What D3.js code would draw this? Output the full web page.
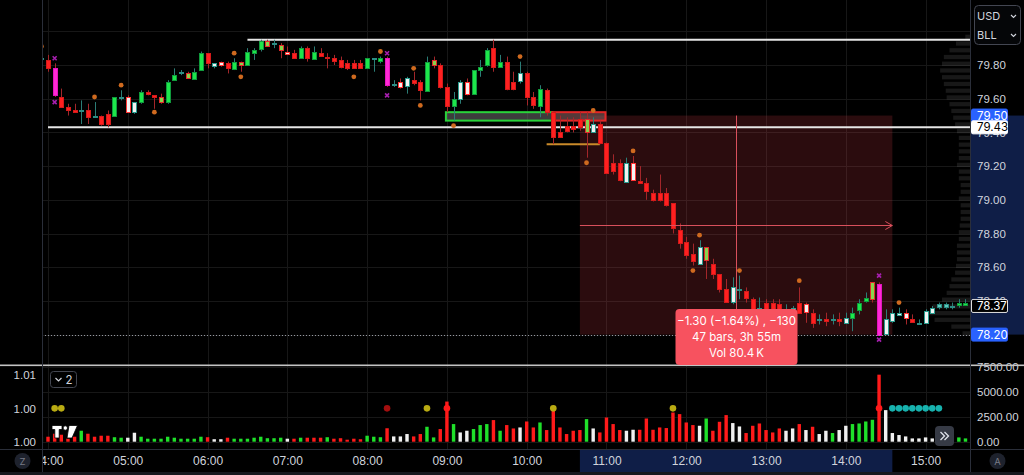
<!DOCTYPE html>
<html>
<head>
<meta charset="utf-8">
<title>BLL 5m</title>
<script src="https://cdn.jsdelivr.net/npm/d3@7"></script>
<style>
  html, body { margin: 0; padding: 0; background: #000; overflow: hidden; }
  svg { display: block; font-family: Inter, "Noto Sans", "DejaVu Sans", sans-serif; }
  .axis text { fill: #d1d4dc; font-size: 11.5px; }
  .axis path, .axis line { display: none; }
</style>
</head>
<body>
<svg id="chart" width="1024" height="475"></svg>
<script>
// 5 minute bars, 03:55 .. 15:35 (one row per hour)
var firstBar = "03:55", lastBar = "15:35";

var opens = [
  79.84,
  79.83, 79.78, 79.61, 79.55, 79.53, 79.53, 79.53, 79.50, 79.50, 79.51, 79.50, 79.61,
  79.61, 79.52, 79.58, 79.64, 79.62, 79.58, 79.58, 79.71, 79.76, 79.72, 79.72, 79.77,
  79.87, 79.79, 79.82, 79.81, 79.78, 79.80, 79.80, 79.87, 79.89, 79.91, 79.93, 79.89,
  79.88, 79.87, 79.84, 79.90, 79.84, 79.87, 79.85, 79.84, 79.83, 79.81, 79.81, 79.81,
  79.78, 79.84, 79.82, 79.84, 79.69, 79.70, 79.67, 79.71, 79.70, 79.65, 79.80, 79.80,
  79.67, 79.56, 79.60, 79.70, 79.63, 79.77, 79.80, 79.90, 79.79, 79.82, 79.70, 79.70,
  79.75, 79.61, 79.56, 79.65, 79.52, 79.40, 79.44, 79.44, 79.48, 79.40, 79.40, 79.45,
  79.34, 79.22, 79.22, 79.11, 79.22, 79.11, 79.10, 79.04, 79.04, 79.04, 78.98, 78.82,
  78.75, 78.68, 78.62, 78.64, 78.62, 78.56, 78.47, 78.39, 78.47, 78.46, 78.41, 78.36,
  78.39, 78.39, 78.38, 78.33, 78.32, 78.39, 78.38, 78.33, 78.29, 78.29, 78.29, 78.29,
  78.27, 78.30, 78.35, 78.40, 78.41, 78.50, 78.20, 78.28, 78.32, 78.33, 78.29, 78.27,
  78.27, 78.33, 78.36, 78.36, 78.37, 78.38, 78.38, 78.39
];
var highs = [
  79.85,
  79.86, 79.81, 79.66, 79.57, 79.57, 79.59, 79.57, 79.58, 79.50, 79.53, 79.61, 79.65,
  79.62, 79.58, 79.65, 79.65, 79.62, 79.63, 79.71, 79.78, 79.77, 79.76, 79.78, 79.88,
  79.87, 79.81, 79.82, 79.82, 79.84, 79.82, 79.90, 79.90, 79.95, 79.95, 79.95, 79.93,
  79.91, 79.89, 79.91, 79.91, 79.91, 79.90, 79.87, 79.86, 79.85, 79.83, 79.83, 79.83,
  79.84, 79.84, 79.85, 79.85, 79.71, 79.72, 79.73, 79.76, 79.71, 79.85, 79.85, 79.81,
  79.69, 79.64, 79.71, 79.72, 79.77, 79.83, 79.90, 79.95, 79.86, 79.85, 79.76, 79.82,
  79.76, 79.64, 79.68, 79.66, 79.52, 79.50, 79.49, 79.49, 79.52, 79.52, 79.49, 79.47,
  79.34, 79.27, 79.24, 79.25, 79.26, 79.20, 79.13, 79.06, 79.15, 79.07, 78.98, 78.86,
  78.78, 78.74, 78.76, 78.72, 78.65, 78.56, 78.53, 78.54, 78.55, 78.48, 78.42, 78.42,
  78.41, 78.41, 78.41, 78.38, 78.37, 78.48, 78.39, 78.35, 78.32, 78.33, 78.32, 78.33,
  78.33, 78.36, 78.41, 78.45, 78.51, 78.51, 78.35, 78.35, 78.36, 78.35, 78.32, 78.29,
  78.35, 78.37, 78.39, 78.39, 78.39, 78.41, 78.41, 78.41
];
var lows = [
  79.82,
  79.76, 79.61, 79.55, 79.50, 79.52, 79.45, 79.45, 79.49, 79.44, 79.43, 79.50, 79.59,
  79.52, 79.51, 79.57, 79.62, 79.54, 79.57, 79.57, 79.71, 79.74, 79.72, 79.72, 79.77,
  79.78, 79.78, 79.79, 79.75, 79.77, 79.76, 79.80, 79.83, 79.88, 79.91, 79.90, 79.84,
  79.86, 79.84, 79.84, 79.82, 79.84, 79.85, 79.78, 79.80, 79.78, 79.77, 79.78, 79.78,
  79.78, 79.76, 79.81, 79.67, 79.67, 79.66, 79.63, 79.68, 79.59, 79.65, 79.78, 79.66,
  79.52, 79.47, 79.57, 79.62, 79.63, 79.73, 79.79, 79.76, 79.79, 79.65, 79.65, 79.69,
  79.56, 79.54, 79.49, 79.50, 79.33, 79.37, 79.40, 79.40, 79.41, 79.25, 79.40, 79.33,
  79.16, 79.15, 79.11, 79.10, 79.12, 79.10, 79.00, 78.99, 78.99, 78.96, 78.80, 78.71,
  78.65, 78.61, 78.62, 78.53, 78.53, 78.45, 78.39, 78.38, 78.41, 78.39, 78.33, 78.33,
  78.33, 78.32, 78.30, 78.29, 78.30, 78.33, 78.27, 78.24, 78.26, 78.25, 78.26, 78.25,
  78.27, 78.22, 78.32, 78.39, 78.39, 78.20, 78.20, 78.27, 78.32, 78.26, 78.27, 78.26,
  78.27, 78.33, 78.35, 78.35, 78.35, 78.36, 78.37, 78.36
];
var closes = [
  79.84,
  79.78, 79.62, 79.55, 79.53, 79.52, 79.53, 79.49, 79.50, 79.45, 79.45, 79.61, 79.61,
  79.52, 79.58, 79.64, 79.63, 79.61, 79.61, 79.70, 79.74, 79.76, 79.75, 79.76, 79.87,
  79.81, 79.81, 79.80, 79.78, 79.82, 79.82, 79.88, 79.89, 79.94, 79.94, 79.93, 79.92,
  79.87, 79.84, 79.90, 79.84, 79.88, 79.85, 79.85, 79.82, 79.79, 79.78, 79.78, 79.78,
  79.84, 79.84, 79.84, 79.68, 79.69, 79.67, 79.72, 79.69, 79.65, 79.82, 79.83, 79.67,
  79.56, 79.60, 79.70, 79.63, 79.77, 79.79, 79.89, 79.79, 79.82, 79.66, 79.66, 79.75,
  79.61, 79.56, 79.66, 79.52, 79.37, 79.37, 79.41, 79.42, 79.43, 79.48, 79.45, 79.34,
  79.16, 79.17, 79.12, 79.22, 79.12, 79.10, 79.05, 79.00, 79.00, 78.97, 78.83, 78.74,
  78.67, 78.64, 78.72, 78.72, 78.56, 78.47, 78.39, 78.48, 78.47, 78.42, 78.35, 78.36,
  78.33, 78.33, 78.33, 78.33, 78.36, 78.33, 78.33, 78.27, 78.29, 78.28, 78.29, 78.28,
  78.30, 78.33, 78.39, 78.42, 78.51, 78.20, 78.29, 78.33, 78.33, 78.30, 78.27, 78.27,
  78.34, 78.36, 78.38, 78.38, 78.37, 78.39, 78.39, 78.37
];
// candle colouring of the volume-candle script:
// g up, r down, w weak down, W weak up, l lime, m climax, d doji
var barKind = [
  "d",
  "rmrrrdrdrrgd", "wWgrrlggdlgg", "rWwrglgggldl", "wrgrgrrrrrrr",
  "gdgmdwWrrglr", "rgWwgggrgrrW", "rrgrrrrrrlWr", "rrrWwrrrrrrr",
  "rrWlrrrWdrrd", "rrrdWrwrdrdr", "WggglmWWWwrd", "WWdddggw"
];
var volumes = [
  450,
  500, 800, 700, 300, 500, 1100, 800, 500, 600, 600, 450, 400,
  400, 900, 500, 300, 300, 300, 500, 400, 300, 300, 300, 500,
  450, 250, 250, 400, 300, 300, 300, 400, 500, 350, 350, 400,
  300, 300, 400, 400, 400, 400, 450, 300, 350, 200, 300, 250,
  600, 500, 450, 1350, 530, 530, 770, 530, 770, 1500, 430, 1270,
  4030, 1770, 930, 1100, 1270, 1670, 1770, 2170, 1100, 1670, 1330, 1430,
  2030, 1430, 1930, 1170, 3330, 1430, 770, 1100, 1170, 2270, 1330, 930,
  2430, 1770, 1170, 1100, 1200, 1200, 2330, 1200, 1430, 1370, 2930, 2770,
  1930, 1670, 1600, 2330, 1100, 2000, 2670, 1870, 1530, 870, 1600, 1830,
  1170, 930, 1330, 1100, 1330, 1770, 1170, 1500, 770, 1100, 870, 1170,
  1600, 1770, 1830, 2030, 2200, 6730, 3170, 870, 670, 530, 330, 330,
  430, 330, 300, 300, 300, 430, 330, 300
];
var volState = [
  "g",
  "rrrrrgrrrrgg", "wwgggggggggg", "rwwrgggggggg", "wrgrrrgrrrrr",
  "gggrwwwrrggr", "rgwwgggrgrrw", "rrgrrrrrrgwr", "rrrwwrrrrrrr",
  "rrwgrrrwwrrr", "rrrwwrwrwwgw", "wggggrwwwwww", "wwwwwggw"
];

// pivot dots and climax marks on the price pane
var pivotDots = [
  ["03:55", 79.91], ["04:35", 79.61], ["04:55", 79.68], ["05:20", 79.52],
  ["06:20", 79.87], ["06:25", 79.73], ["07:50", 79.73], ["08:10", 79.88],
  ["08:35", 79.78], ["08:40", 79.56], ["09:05", 79.44], ["09:55", 79.85],
  ["10:45", 79.22], ["10:50", 79.53], ["11:20", 79.29], ["12:05", 78.58],
  ["12:10", 78.79], ["12:40", 78.58], ["13:25", 78.52], ["14:40", 78.39]
];
var climaxMarks = [
  ["04:05", 79.84], ["04:05", 79.58], ["08:15", 79.87], ["08:15", 79.62],
  ["14:25", 78.55], ["14:25", 78.17]
];

// signals of the lower indicator (all sit on 1.005)
var signalLevel = 1.005;
var yellowSignals = ["04:05", "04:10", "08:45", "10:20", "11:50"];
var darkSignals = ["08:15"];
var redSignals = ["09:00", "14:25"];
var tealSignals = ["14:35", "14:40", "14:45", "14:50", "14:55", "15:00", "15:05", "15:10"];

// drawings
var levelLines = [{from: "06:30", price: 79.95}, {from: "04:00", price: 79.43}];
var zones = [
  {from: "09:00", to: "10:20", top: 79.52, bottom: 79.47, kind: "demand"},
  {from: "10:20", to: "11:00", top: 79.52, bottom: 79.47, kind: "supply"}
];
var orangeLine = {from: "10:15", to: "10:55", price: 79.33};
var range = {from: "10:40", to: "14:35", start: 79.50, end: 78.20};
var rangeText = ["\u22121.30 (\u22121.64%) , \u2212130", "47 bars, 3h 55m", "Vol 80.4\u2009K"];

// visible range volume profile, 0.04 rows from 78.20
var profileStart = 78.20, profileStep = 0.04;
var profileVol = [
  8, 20, 38, 45, 40, 30, 25, 22, 20, 16, 15, 14, 14, 14, 12, 12, 11, 10, 10, 10, 12, 10, 10,
  12, 12, 14, 12, 12, 12, 12, 14, 16, 18, 20, 22, 25, 26, 28, 30, 32, 30, 28, 22, 15, 5
];

var priceTicks = [78.20, 78.40, 78.60, 78.80, 79.00, 79.20, 79.40, 79.60, 79.80, 80.00];
var priceLabels = [78.40, 78.60, 78.80, 79.00, 79.20, 79.40, 79.60, 79.80];
var volTicks = [0, 2500, 5000, 7500];
var indTicks = [1.000, 1.005, 1.010];
var lastPrice = 78.37;

var svg = d3.select("#chart");
var plotL = 42, plotR = 970, paneBottom = 365, volTop = 366, axisTop = 449;

var parseTime = d3.timeParse("%H:%M");
var times = d3.timeMinute.every(5).range(parseTime(firstBar), d3.timeMinute.offset(parseTime(lastBar), 1));
var kinds = barKind.join("").split("");
var vstates = volState.join("").split("");
var bars = times.map(function (t, i) {
  return {t: t, o: opens[i], h: highs[i], l: lows[i], c: closes[i], kind: kinds[i], vol: volumes[i], vs: vstates[i]};
});

var x = d3.scaleTime().domain([parseTime("04:00"), parseTime("15:00")]).range([48, 925.6]);
var y = d3.scaleLinear().domain([78.20, 79.80]).range([334.6, 65]);
var yv = d3.scaleLinear().domain([0, 7500]).range([441.7, 367]);
var yi = d3.scaleLinear().domain([1.000, 1.010]).range([441.7, 375]);
var xt = function (s) { return x(parseTime(s)); };

var bodyFill = {g: "#1de64b", r: "#ff2020", w: "#f2f2f2", W: "#f2f2f2", l: "#8ad34c", m: "#ff2ad5", d: "#5fc6bb"};
var bodyStroke = {g: "#109a3c", r: "#d41a1a", w: "#ff3535", W: "#2a9d8f", l: "#e22a2a", m: "#e514bf", d: "#2b8e85"};
var wickColor = {g: "#2b7d76", W: "#2b7d76", d: "#2b7d76", r: "#a3262a", w: "#a3262a", l: "#a3262a", m: "#a3262a"};
var volColor = {g: "#1fe02a", r: "#ff1a1a", w: "#f0f0f0"};

svg.append("rect").attr("width", 1024).attr("height", 475).attr("fill", "#000");

var defs = svg.append("defs");
defs.append("clipPath").attr("id", "priceClip")
  .append("rect").attr("x", plotL).attr("y", 0).attr("width", plotR - plotL).attr("height", paneBottom);
defs.append("clipPath").attr("id", "volClip")
  .append("rect").attr("x", plotL).attr("y", volTop).attr("width", plotR - plotL).attr("height", axisTop - volTop);
defs.append("clipPath").attr("id", "timeClip")
  .append("rect").attr("x", plotL + 0.5).attr("y", axisTop).attr("width", plotR - plotL).attr("height", 26);

// grid
var hours = x.ticks(d3.timeHour.every(1));
var grid = svg.append("g").attr("stroke", "#171717").attr("stroke-width", 1);
grid.selectAll(".vg").data(hours).join("line")
  .attr("x1", function (d) { return Math.round(x(d)) + 0.5; })
  .attr("x2", function (d) { return Math.round(x(d)) + 0.5; })
  .attr("y1", 0).attr("y2", axisTop);
grid.selectAll(".hg").data(priceTicks).join("line")
  .attr("x1", plotL).attr("x2", plotR)
  .attr("y1", function (d) { return Math.round(y(d)) + 0.5; })
  .attr("y2", function (d) { return Math.round(y(d)) + 0.5; });
grid.selectAll(".vol-g").data(volTicks).join("line")
  .attr("x1", plotL).attr("x2", plotR)
  .attr("y1", function (d) { return Math.round(yv(d)) + 0.5; })
  .attr("y2", function (d) { return Math.round(yv(d)) + 0.5; });

var pane = svg.append("g").attr("clip-path", "url(#priceClip)");

// measured range background
var rx0 = xt(range.from), rx1 = xt(range.to);
pane.append("rect")
  .attr("x", rx0).attr("y", y(range.start))
  .attr("width", rx1 - rx0).attr("height", y(range.end) - y(range.start))
  .attr("fill", "rgba(214, 60, 72, 0.2)");

// volume profile
var pw = d3.scaleLinear().domain([0, d3.max(profileVol)]).range([0, 42]);
pane.selectAll(".prof").data(profileVol).join("rect")
  .attr("x", function (d) { return plotR - pw(d); })
  .attr("y", function (d, i) { return y(profileStart + (i + 0.5) * profileStep); })
  .attr("width", function (d) { return pw(d); })
  .attr("height", function () { return y(0) - y(profileStep) - 2.5; })
  .attr("fill", "#b8b8b8").attr("opacity", 0.13);

// horizontal levels
pane.selectAll(".level").data(levelLines).join("line")
  .attr("x1", function (d) { return xt(d.from); }).attr("x2", plotR)
  .attr("y1", function (d) { return y(d.price); }).attr("y2", function (d) { return y(d.price); })
  .attr("stroke", "#e6e6e6").attr("stroke-width", 2);

// zones
pane.selectAll(".zone").data(zones).join("rect")
  .attr("x", function (d) { return xt(d.from) - 1; })
  .attr("y", function (d) { return y(d.top); })
  .attr("width", function (d) { return xt(d.to) - xt(d.from); })
  .attr("height", function (d) { return y(d.bottom) - y(d.top); })
  .attr("fill", function (d) { return d.kind == "demand" ? "rgba(110,110,110,0.55)" : "rgba(140,95,95,0.6)"; })
  .attr("stroke", function (d) { return d.kind == "demand" ? "#29d33a" : "#e32626"; })
  .attr("stroke-width", 2);
pane.append("line")
  .attr("x1", xt(orangeLine.from)).attr("x2", xt(orangeLine.to))
  .attr("y1", y(orangeLine.price)).attr("y2", y(orangeLine.price))
  .attr("stroke", "#c98a2a").attr("stroke-width", 2);

// candles
var candle = pane.selectAll(".candle").data(bars).join("g");
candle.append("line")
  .attr("x1", function (d) { return Math.round(x(d.t)) + 0.5; })
  .attr("x2", function (d) { return Math.round(x(d.t)) + 0.5; })
  .attr("y1", function (d) { return y(d.h); })
  .attr("y2", function (d) { return y(d.l); })
  .attr("stroke", function (d) { return wickColor[d.kind]; });
candle.append("rect")
  .attr("x", function (d) { return Math.round(x(d.t)) - 1.5; })
  .attr("y", function (d) { return Math.round(y(Math.max(d.o, d.c))) + 0.5; })
  .attr("width", 4)
  .attr("height", function (d) { return Math.max(1, Math.round(Math.abs(y(d.o) - y(d.c)))); })
  .attr("fill", function (d) { return bodyFill[d.kind]; })
  .attr("stroke", function (d) { return bodyStroke[d.kind]; });

pane.selectAll(".pivot").data(pivotDots).join("circle")
  .attr("cx", function (d) { return xt(d[0]); })
  .attr("cy", function (d) { return y(d[1]); })
  .attr("r", 2.4).attr("fill", "#cf6a1f");
pane.selectAll(".climax").data(climaxMarks).join("path")
  .attr("d", function (d) {
    var cx = xt(d[0]), cy = y(d[1]);
    return "M" + (cx - 2) + "," + (cy - 2) + "L" + (cx + 2) + "," + (cy + 2) +
      "M" + (cx + 2) + "," + (cy - 2) + "L" + (cx - 2) + "," + (cy + 2);
  })
  .attr("stroke", "#a61fae").attr("stroke-width", 1.6);

// low of range, dotted
pane.append("line")
  .attr("x1", plotL).attr("x2", plotR)
  .attr("y1", Math.round(y(range.end)) + 0.5).attr("y2", Math.round(y(range.end)) + 0.5)
  .attr("stroke", "#9598a1").attr("stroke-dasharray", "1,2");

// range crosshair
var midX = Math.round((rx0 + rx1) / 2) + 0.5;
var midY = Math.round((y(range.start) + y(range.end)) / 2) + 0.5;
pane.append("line")
  .attr("x1", midX).attr("x2", midX).attr("y1", y(range.start)).attr("y2", y(range.end))
  .attr("stroke", "#d9505c");
pane.append("line")
  .attr("x1", rx0).attr("x2", rx1).attr("y1", midY).attr("y2", midY)
  .attr("stroke", "#d9505c");
pane.append("path")
  .attr("d", "M" + (rx1 - 7) + "," + (midY - 4) + "L" + rx1 + "," + midY + "L" + (rx1 - 7) + "," + (midY + 4))
  .attr("fill", "none").attr("stroke", "#d9505c");

// volume pane
var vol = svg.append("g").attr("clip-path", "url(#volClip)");
vol.selectAll(".vbar").data(bars).join("rect")
  .attr("x", function (d) { return x(d.t) - 1.7; })
  .attr("y", function (d) { return yv(d.vol); })
  .attr("width", 3.4)
  .attr("height", function (d) { return yv(0) - yv(d.vol); })
  .attr("fill", function (d) { return volColor[d.vs]; });

function signals(list, color) {
  vol.selectAll(null).data(list).join("circle")
    .attr("cx", function (d) { return xt(d); })
    .attr("cy", yi(signalLevel))
    .attr("r", 3.3).attr("fill", color);
}
signals(yellowSignals, "#b9ab12");
signals(darkSignals, "#a30f0f");
signals(redSignals, "#ff1a1a");
signals(tealSignals, "#17b2ae");

// axis panels
svg.append("rect").attr("x", 0).attr("y", axisTop).attr("width", 1024).attr("height", 26).attr("fill", "#000");
svg.append("rect").attr("x", rx0).attr("y", axisTop + 1).attr("width", rx1 - rx0).attr("height", 22).attr("fill", "#0f1e47");
svg.append("rect").attr("x", plotR).attr("y", y(range.start)).attr("width", 1024 - plotR)
  .attr("height", y(range.end) - y(range.start)).attr("fill", "#0f1e47");

svg.append("g").attr("clip-path", "url(#timeClip)")
  .append("g").attr("class", "axis")
  .attr("transform", "translate(0," + axisTop + ")")
  .call(d3.axisBottom(x).ticks(d3.timeHour.every(1)).tickFormat(d3.timeFormat("%H:%M")).tickSize(0).tickPadding(7))
  .selectAll("text").style("font-size", "12px");

svg.append("g").attr("class", "axis")
  .attr("transform", "translate(" + (plotR + 1) + ",0)")
  .call(d3.axisRight(y).tickValues(priceLabels).tickFormat(d3.format(".2f")).tickSize(0).tickPadding(6));

svg.append("g").attr("class", "axis")
  .attr("transform", "translate(" + (plotR + 1) + ",0)")
  .call(d3.axisRight(yv).tickValues(volTicks).tickFormat(d3.format(".2f")).tickSize(0).tickPadding(6));

svg.append("g").attr("class", "axis")
  .attr("transform", "translate(" + (plotL - 6) + ",0)")
  .call(d3.axisLeft(yi).tickValues(indTicks).tickFormat(d3.format(".2f")).tickSize(0).tickPadding(0));

// price tags on the scale
var tags = [
  {price: range.start, fill: "#2962ff", stroke: "#2962ff", text: "#fff"},
  {price: levelLines[1].price, fill: "#ffffff", stroke: "#ffffff", text: "#000"},
  {price: lastPrice, fill: "#000", stroke: "#e0e0e0", text: "#fff"},
  {price: range.end, fill: "#2962ff", stroke: "#2962ff", text: "#fff"}
];
var tag = svg.selectAll(".tag").data(tags).join("g")
  .attr("transform", function (d) { return "translate(" + (plotR + 1) + "," + y(d.price) + ")"; });
tag.append("rect")
  .attr("x", 0.5).attr("y", -6.5).attr("width", 36).attr("height", 13).attr("rx", 1.5)
  .attr("fill", function (d) { return d.fill; })
  .attr("stroke", function (d) { return d.stroke; });
tag.append("text")
  .attr("x", 6).attr("dy", "0.36em")
  .style("font-size", "11.5px")
  .attr("fill", function (d) { return d.text; })
  .text(function (d) { return d3.format(".2f")(d.price); });

// frame lines
svg.append("rect").attr("x", 0).attr("y", 364.5).attr("width", 1024).attr("height", 1.6).attr("fill", "#c4c4c4");
svg.append("line").attr("x1", plotL + 0.5).attr("x2", plotL + 0.5).attr("y1", 0).attr("y2", 475).attr("stroke", "#2a2e39");
svg.append("line").attr("x1", plotR + 0.5).attr("x2", plotR + 0.5).attr("y1", 0).attr("y2", 475).attr("stroke", "#2a2e39");
svg.append("line").attr("x1", 0).attr("x2", 1024).attr("y1", axisTop + 0.5).attr("y2", axisTop + 0.5).attr("stroke", "#2a2e39");
svg.append("rect").attr("x", 0).attr("y", 472).attr("width", 1024).attr("height", 3).attr("fill", "#16181e");

// currency / unit box
var unit = svg.append("g");
unit.append("rect").attr("x", 974.5).attr("y", 5.5).attr("width", 46).attr("height", 39).attr("rx", 4)
  .attr("fill", "#050608").attr("stroke", "#434651");
unit.selectAll("text").data(["USD", "BLL"]).join("text")
  .attr("x", 977).attr("y", function (d, i) { return 19.5 + i * 19; })
  .attr("fill", "#d1d4dc").style("font-size", "11px").text(function (d) { return d; });
unit.selectAll("path").data([15, 34]).join("path")
  .attr("d", function (d) { return "M1011," + d + "l2.5,2.5l2.5,-2.5"; })
  .attr("fill", "none").attr("stroke", "#d1d4dc").attr("stroke-width", 1.1);

// range label
var tip = svg.append("g").attr("transform", "translate(" + (midX - 61) + ",309)");
tip.append("rect").attr("width", 122).attr("height", 56).attr("rx", 4).attr("fill", "#f7525f");
tip.selectAll("text").data(rangeText).join("text")
  .attr("x", 61).attr("y", function (d, i) { return 16 + i * 16; })
  .attr("text-anchor", "middle").attr("fill", "#fff").style("font-size", "11.5px")
  .text(function (d) { return d; });

// pane legend toggle, logo, buttons
var legend = svg.append("g").attr("transform", "translate(50.5,371.5)");
legend.append("rect").attr("width", 26).attr("height", 16).attr("rx", 3).attr("fill", "#000").attr("stroke", "#434651");
legend.append("path").attr("d", "M5,6.5l3,3l3,-3").attr("fill", "none").attr("stroke", "#d1d4dc").attr("stroke-width", 1.2);
legend.append("text").attr("x", 15).attr("y", 12.5).attr("fill", "#d1d4dc").style("font-size", "11.5px").text("2");

var logo = svg.append("g").attr("fill", "#fff").attr("stroke", "#000").attr("stroke-width", 0.8);
logo.append("path").attr("d", "M52,425.5h10v4h-2.8v8.5h-4.4v-8.5h-2.8z");
logo.append("circle").attr("cx", 65.3).attr("cy", 428).attr("r", 2.2);
logo.append("path").attr("d", "M69,425.5h8.5l-5.5,12.5h-5z");

var more = svg.append("g").attr("transform", "translate(935,426)");
more.append("rect").attr("width", 19).attr("height", 20).attr("rx", 4).attr("fill", "#363a45");
more.append("path").attr("d", "M5.5,6l4,4l-4,4M9.5,6l4,4l-4,4").attr("fill", "none").attr("stroke", "#e0e3eb").attr("stroke-width", 1.3);

[["Z", 22.5], ["A", 997.5]].forEach(function (b) {
  svg.append("circle").attr("cx", b[1]).attr("cy", 461).attr("r", 8).attr("fill", "#1e222d");
  svg.append("text").attr("x", b[1]).attr("y", 464.5).attr("text-anchor", "middle")
    .attr("fill", "#787b86").style("font-size", "9.5px").text(b[0]);
});
</script>
</body>
</html>
